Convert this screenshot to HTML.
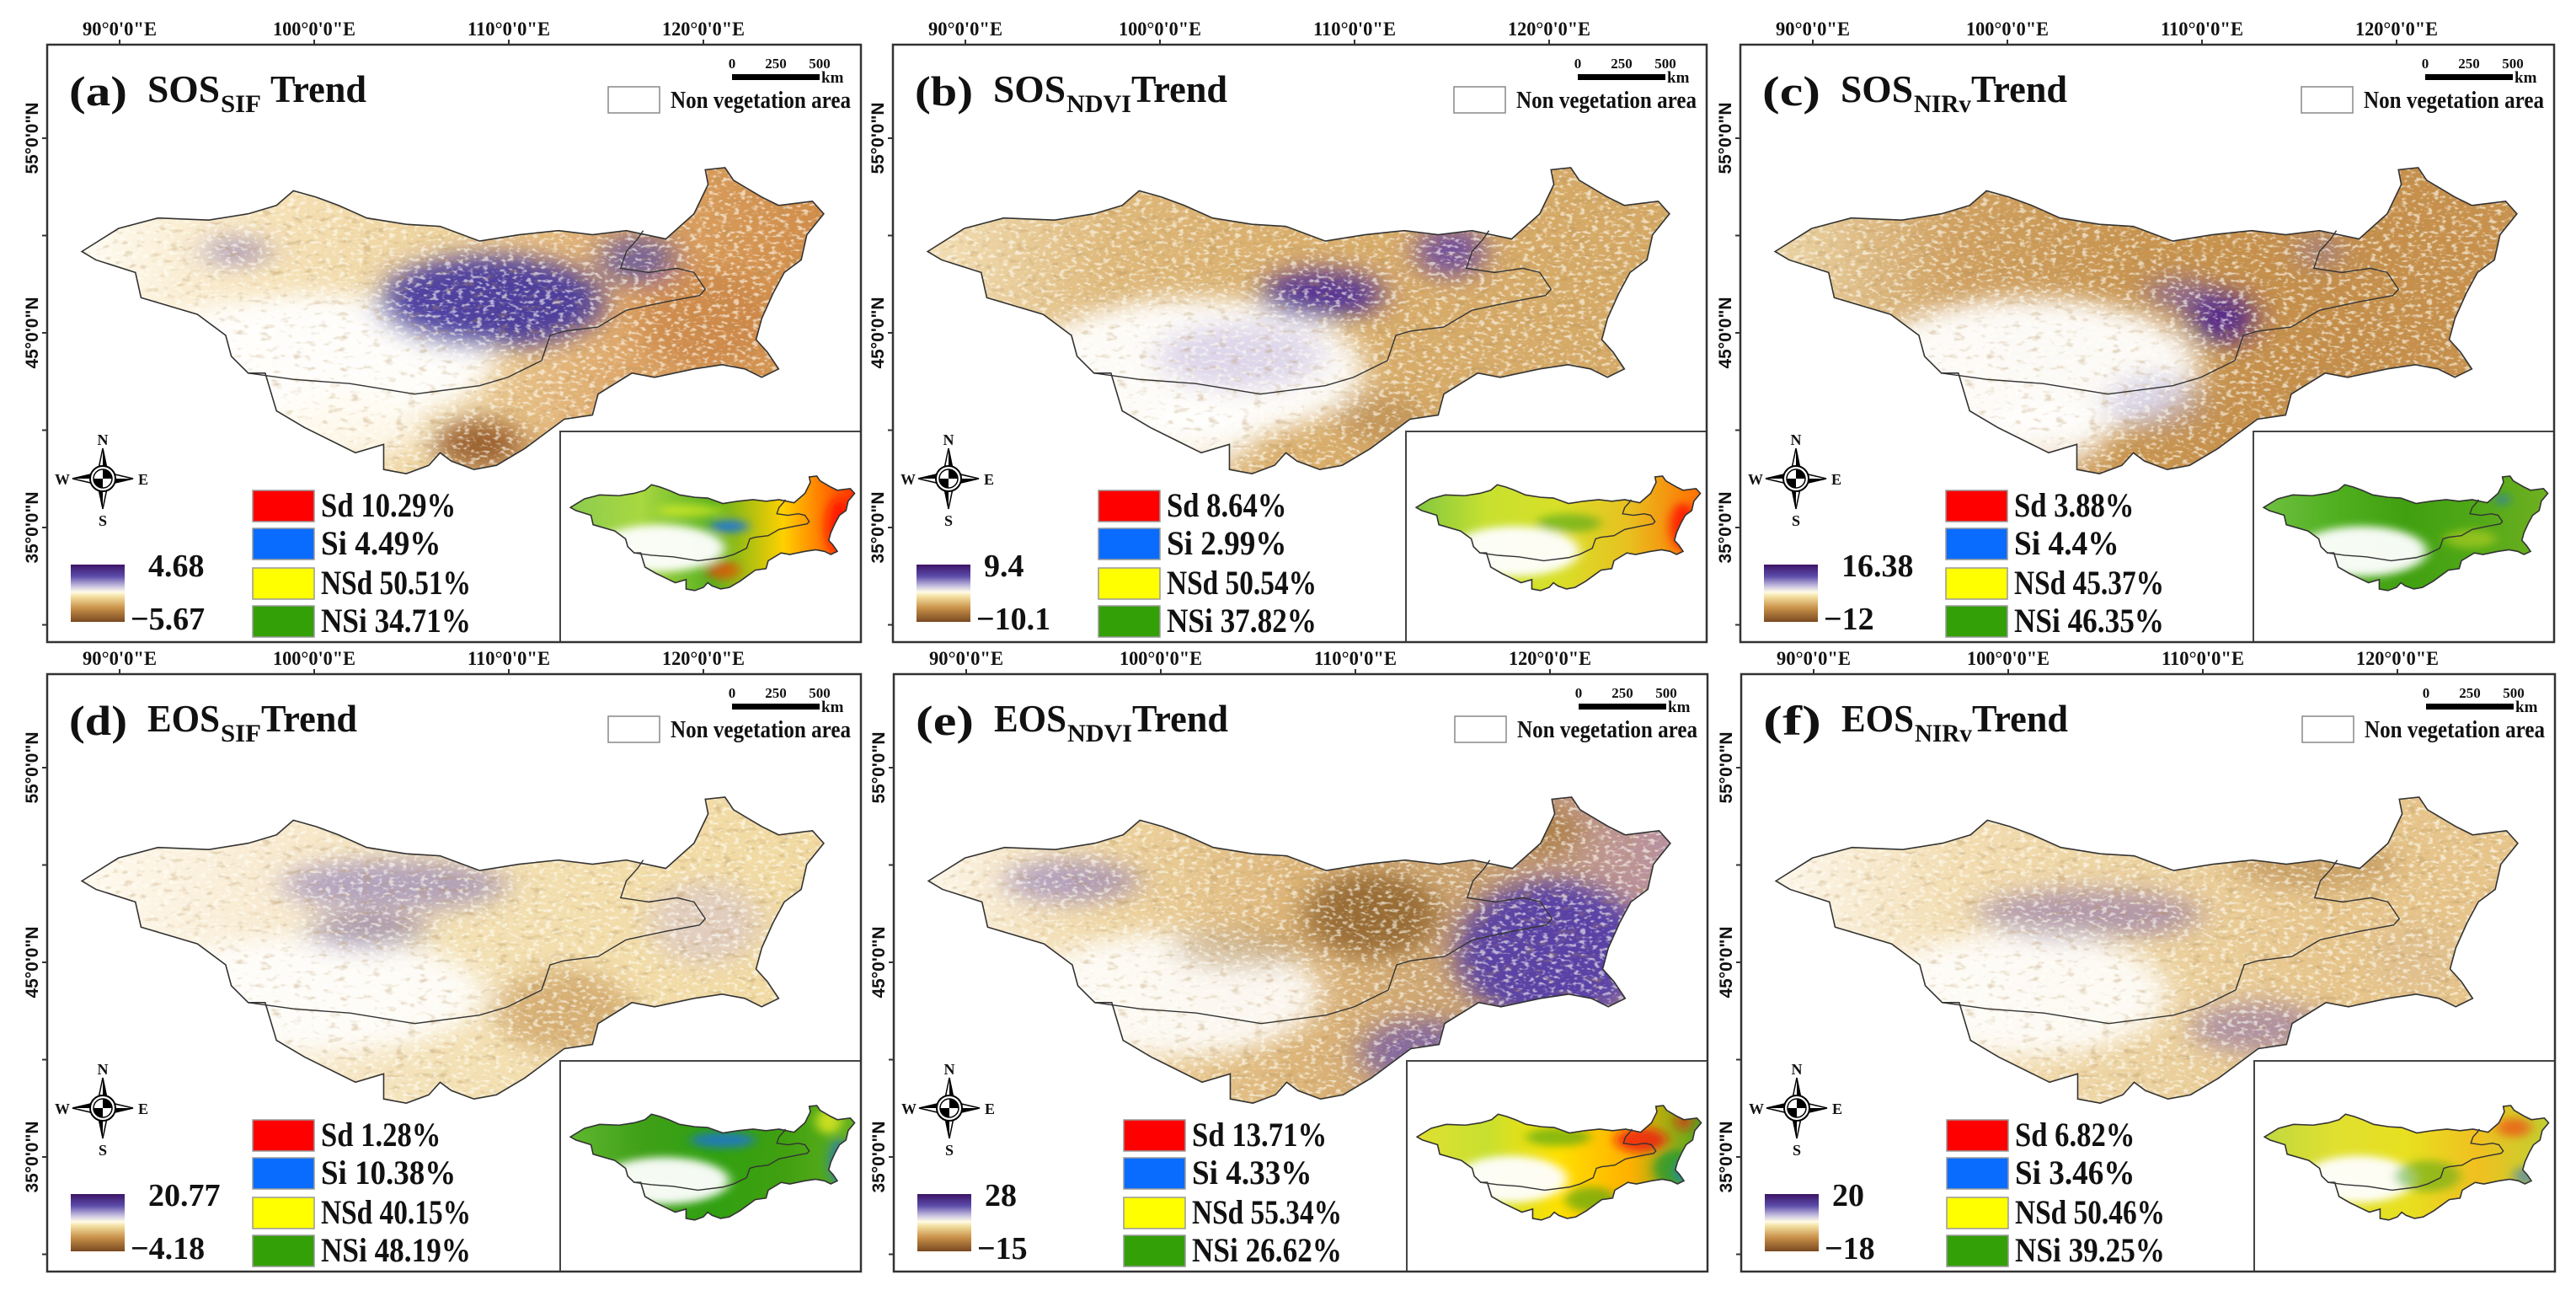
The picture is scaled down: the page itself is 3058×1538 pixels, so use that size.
<!DOCTYPE html>
<html><head><meta charset="utf-8">
<style>
html,body{margin:0;padding:0;background:#fff;}
svg{display:block;}
text{font-family:"Liberation Serif",serif;font-weight:bold;fill:#111;}
.sans{font-family:"Liberation Sans","DejaVu Sans",sans-serif;}
</style></head>
<body>
<svg id="fig" width="3058" height="1538" viewBox="0 0 3058 1538" xmlns="http://www.w3.org/2000/svg">
<defs id="defs">
<clipPath id="mapclip"><polygon id="clipPoly"/></clipPath>
<filter id="blur" x="-50%" y="-50%" width="200%" height="200%"><feGaussianBlur stdDeviation="26"/></filter>
<filter id="speckW" x="0" y="0" width="100%" height="100%">
<feTurbulence type="fractalNoise" baseFrequency="0.09 0.12" numOctaves="2" seed="3"/>
<feColorMatrix type="matrix" values="0 0 0 0 1  0 0 0 0 1  0 0 0 0 0.93  5 0 0 0 -2.6"/>
</filter>
<filter id="speckD" x="0" y="0" width="100%" height="100%">
<feTurbulence type="fractalNoise" baseFrequency="0.05 0.07" numOctaves="2" seed="11"/>
<feColorMatrix type="matrix" values="0 0 0 0 0.45  0 0 0 0 0.28  0 0 0 0 0.1  4 0 0 0 -2.3"/>
</filter>
<linearGradient id="cbgrad" x1="0" y1="0" x2="0" y2="1">
<stop offset="0" stop-color="#3d1466"/><stop offset="0.2" stop-color="#5a4aa8"/><stop offset="0.38" stop-color="#c9c2e0"/><stop offset="0.48" stop-color="#fffbe6"/><stop offset="0.56" stop-color="#f3dfa0"/><stop offset="0.76" stop-color="#c89048"/><stop offset="1" stop-color="#7a4a22"/>
</linearGradient>
</defs>
</svg>
<script>
// ---- data ----
const panelIds=['a','b','c','d','e','f'];
const titleMain=['SOS','SOS','SOS','EOS','EOS','EOS'];
const titleSub=['SIF','NDVI','NIRv','SIF','NDVI','NIRv'];
const cbMax=['4.68','9.4','16.38','20.77','28','20'];
const cbMin=['\u22125.67','\u221210.1','\u221212','\u22124.18','\u221215','\u221218'];
const classNames=['Sd','Si','NSd','NSi'];
const classColors=['#ff0000','#0a6cff','#ffff00','#33a008'];
const pctSd=['10.29','8.64','3.88','1.28','13.71','6.82'];
const pctSi=['4.49','2.99','4.4','10.38','4.33','3.46'];
const pctNSd=['50.51','50.54','45.37','40.15','55.34','50.46'];
const pctNSi=['34.71','37.82','46.35','48.19','26.62','39.25'];
const lonTicks=[90,100,110,120];
const latTicks=[55,45,35];
const latMinor=[50,40,30];

// ---- layout ----
const PX=[56,1060,2066,56,1061,2067], PY=[53,53,53,800,800,800];
const W=966,H=709;
const legendX=[244,244,244,244,273,244];
function lonX(l){return 86+(l-90)*23.1;}
function latY(l){return 111+(55-l)*23.1;}

const outline=[[145,600],[210,545],[280,520],[370,525],[440,510],[490,490],[520,455],[560,470],[600,490],[650,520],[720,535],[780,540],[850,575],[920,560],[990,550],[1050,560],[1110,550],[1180,570],[1230,510],[1255,440],[1250,405],[1285,400],[1300,430],[1350,470],[1380,490],[1440,480],[1460,510],[1430,560],[1420,620],[1390,650],[1370,700],[1350,760],[1340,810],[1360,840],[1380,880],[1350,900],[1320,880],[1280,870],[1230,880],[1160,900],[1120,890],[1060,940],[1050,990],[1000,1000],[960,1040],[930,1070],[880,1110],[840,1120],[800,1100],[780,1080],[760,1110],[720,1130],[680,1120],[680,1060],[630,1080],[600,1060],[540,1020],[490,980],[470,890],[440,890],[410,850],[400,800],[350,750],[250,710],[240,650],[170,620]];
const border=[[440,890],[520,905],[620,915],[735,940],[850,920],[900,900],[960,860],[975,800],[1000,790],[1060,780],[1110,740],[1180,720],[1240,705],[1250,690],[1230,650],[1200,640],[1150,650],[1100,640],[1110,600],[1130,570],[1140,550]];

const mapStops=[
 ['#fffcf4','#f6e2b8','#ecd09a','#dca466','#d08c48'],
 ['#f3e0b8','#deb87a','#d9ae6c','#d6aa68','#d4a864'],
 ['#ecd6a8','#cfa060','#c8944f','#c48e4a','#c8924e'],
 ['#fffaf0','#f8ead0','#f3e0b4','#f2dca8','#f0d8a0'],
 ['#fdf6ea','#eed4a0','#dcb478','#c8a070','#b890a0'],
 ['#fdf7ec','#f2dcb0','#ecd2a0','#e6c48a','#e6c48a']];
const mapBlobs=[
 [[560,860,320,160,'#ffffff',.95],[620,1020,130,80,'#fffaf0',.85],[870,720,200,110,'#3f32a0',.9],[1130,620,70,60,'#5048a8',.7],[420,600,60,30,'#6050b0',.5],[850,1060,80,60,'#8f5222',.85],[1250,760,120,120,'#c88040',.6]],
 [[620,880,300,170,'#ffffff',.95],[620,1040,110,80,'#ffffff',.8],[843,703,110,60,'#4a2a98',.9],[1072,600,60,60,'#5a3aa8',.8],[700,850,150,80,'#b0a0d8',.4],[950,1000,80,60,'#a07040',.35]],
 [[600,880,300,170,'#ffffff',.95],[620,1040,110,80,'#ffffff',.8],[935,758,60,65,'#4a2090',.9],[860,700,60,40,'#6a50b8',.55],[1110,600,40,40,'#8070c0',.45],[820,960,90,70,'#a8a0d0',.4]],
 [[560,870,300,140,'#ffffff',.88],[700,610,200,60,'#7060b8',.5],[650,720,110,40,'#50308a',.5],[1000,910,120,100,'#c89858',.65],[1250,700,100,100,'#c8b8e0',.4]],
 [[580,870,260,150,'#ffffff',.88],[1250,770,170,170,'#5038a8',.9],[1020,1010,110,80,'#6048b0',.65],[400,600,120,50,'#7060c0',.5],[930,680,120,100,'#8e6028',.85],[1230,480,70,60,'#a87838',.75],[700,760,120,50,'#b08a50',.5]],
 [[580,870,260,150,'#ffffff',.88],[700,680,200,60,'#6a50b0',.45],[1000,950,120,60,'#6a50b0',.45],[1100,560,150,60,'#b88a50',.6],[1280,780,80,80,'#d8b890',.4]]];
const insetStops=[
 ['#8ccc50','#a8d840','#58b020','#ffd000','#ff3000'],
 ['#80c840','#c8e030','#d8e028','#e8c020','#ff7000'],
 ['#70c040','#50b020','#40a010','#50a818','#70b020'],
 ['#60b830','#40a018','#30a010','#40a010','#60b020'],
 ['#e0e030','#c8e030','#ffe000','#ffb000','#50a820'],
 ['#c0d840','#e0e030','#e8e020','#f0c020','#c0d030']];
const insetBlobs=[
 [[560,860,300,150,'#ffffff',.95],[880,720,90,40,'#1a70e8',.85],[1390,720,60,180,'#ff1000',.85],[700,620,150,40,'#ffff20',.5],[850,1000,80,60,'#ff3000',.6]],
 [[600,880,300,160,'#ffffff',.95],[1380,720,60,150,'#ff0000',.75],[850,700,150,60,'#40a010',.55]],
 [[600,880,300,160,'#ffffff',.95],[1250,550,30,30,'#1a70e8',.7],[1100,800,120,60,'#e0e020',.45]],
 [[580,880,300,150,'#ffffff',.95],[850,620,150,50,'#1a70e8',.75],[1390,760,50,150,'#1a70e8',.65],[1340,500,60,80,'#f0f020',.75]],
 [[580,870,260,150,'#ffffff',.95],[800,600,150,60,'#40a010',.6],[1180,620,120,80,'#f01010',.75],[1380,500,40,60,'#f01010',.6],[1340,800,100,120,'#2a9a30',.85],[1390,820,40,60,'#1a70e8',.75],[950,1000,120,80,'#40a010',.6]],
 [[580,870,260,150,'#ffffff',.95],[1300,540,80,60,'#f04010',.65],[900,850,150,100,'#40a010',.5],[1350,850,50,60,'#1a70e8',.55]]];

const NS='http://www.w3.org/2000/svg';
const svg=document.getElementById('fig');
const defs=document.getElementById('defs');
function mk(tag,attrs,parent,txt){const e=document.createElementNS(NS,tag);for(const k in attrs)e.setAttribute(k,attrs[k]);if(txt!==undefined)e.textContent=txt;(parent||svg).appendChild(e);return e;}
const ptsStr=outline.map(p=>p.join(',')).join(' ');
document.getElementById('clipPoly').setAttribute('points',ptsStr);

function addGrad(id,stops){const g=mk('linearGradient',{id:id,gradientUnits:'userSpaceOnUse',x1:140,y1:0,x2:1460,y2:0},defs);
 stops.forEach((c,i)=>mk('stop',{offset:i/(stops.length-1),'stop-color':c},g));}

function drawMap(parent,gradId,blobs,name,speck){
 const clip=mk('g',{'clip-path':'url(#mapclip)'},parent);
 
 
 mk('rect',{x:100,y:350,width:1400,height:850,fill:'url(#'+gradId+')'},clip);
 const bg=mk('g',{filter:'url(#blur)'},clip);
 blobs.forEach(b=>{mk('ellipse',{cx:b[0],cy:b[1],rx:b[2],ry:b[3],fill:b[4],'fill-opacity':b[5]},bg);});
 if(speck){
  mk('rect',{x:100,y:350,width:1400,height:850,filter:'url(#speckD)',opacity:0.35},clip);
  mk('rect',{x:100,y:350,width:1400,height:850,filter:'url(#speckW)',opacity:0.6},clip);
 }
 const ol=mk('polygon',{points:ptsStr,fill:'none',stroke:'#333','stroke-width':1.6,'vector-effect':'non-scaling-stroke'},parent);
 
 
 const bd=mk('polyline',{points:border.map(p=>p.join(',')).join(' '),fill:'none',stroke:'#333','stroke-width':1.4,'vector-effect':'non-scaling-stroke'},parent);
 
 
}

panelIds.forEach((id,i)=>{
 const ox=PX[i],oy=PY[i];
 const g=mk('g',{transform:'translate('+ox+','+oy+')'});
 
 
 addGrad('mg'+id,mapStops[i]);
 addGrad('ig'+id,insetStops[i]);
 const mg=mk('g',{transform:'translate(-56,-53) scale(0.6698,0.4975)'},g);
 
 
 drawMap(mg,'mg'+id,mapBlobs[i],'trend-map-'+id,true);
 const ins=mk('rect',{x:609,y:459,width:W-609,height:H-459,fill:'#fff',stroke:'#444','stroke-width':2},g);
 
 
 const ig=mk('g',{transform:'translate(620,512) scale(0.383,0.374) translate(-38,-146) translate(-56,-53) scale(0.6698,0.4975)'},g);
 
 
 drawMap(ig,'ig'+id,insetBlobs[i],'significance-map-'+id,false);
 const fr=mk('rect',{x:0,y:0,width:W,height:H,fill:'none',stroke:'#333','stroke-width':2.5},g);
 
 
 lonTicks.forEach(l=>{
  const x=lonX(l);
  const tk=mk('line',{x1:x,y1:-6,x2:x,y2:0,stroke:'#333','stroke-width':2},g);
  
  
  const t=mk('text',{x:x,y:-11,'text-anchor':'middle','font-size':23,textLength:l<100?88:98,lengthAdjust:'spacingAndGlyphs'},g,l+'\u00b00\'0"E');
  
  
 });
 latTicks.concat(latMinor).forEach(l=>{
  const y=latY(l);
  const tk=mk('line',{x1:-6,y1:y,x2:0,y2:y,stroke:'#333','stroke-width':2},g);
  
  
 });
 latTicks.forEach(l=>{
  const y=latY(l);
  const t=mk('text',{transform:'translate(-11,'+y+') rotate(-90)','text-anchor':'middle','font-size':21,'class':'sans',textLength:85,lengthAdjust:'spacingAndGlyphs'},g,l+'\u00b00\'0"N');
  
  
 });
 const sw={SIF:48,NDVI:77,NIRv:68}[titleSub[i]];
 const t1=mk('text',{x:26,y:72,'font-size':50,textLength:69,lengthAdjust:'spacingAndGlyphs'},g,'('+id+')');
 
 
 const t2=mk('text',{x:119,y:68,'font-size':46,textLength:86,lengthAdjust:'spacingAndGlyphs'},g,titleMain[i]);
 
 
 const t3=mk('text',{x:206,y:80,'font-size':30,textLength:sw,lengthAdjust:'spacingAndGlyphs'},g,titleSub[i]);
 
 
 const tx=206+sw+(i===0?11:0);
 const t4=mk('text',{x:tx,y:68,'font-size':46,textLength:114,lengthAdjust:'spacingAndGlyphs'},g,'Trend');
 
 
 const sb=mk('rect',{x:813,y:35,width:104,height:7,fill:'#000'},g);
 
 
 [['0',813],['250',865],['500',917]].forEach(s=>{
  const t=mk('text',{x:s[1],y:28,'text-anchor':'middle','font-size':17},g,s[0]);
  
  
 });
 const km=mk('text',{x:919,y:45,'font-size':19},g,'km');
 
 
 const nb=mk('rect',{x:666,y:50,width:61,height:31,fill:'#fff',stroke:'#888','stroke-width':1.5},g);
 
 
 const nt=mk('text',{x:740,y:75,'font-size':28,textLength:214,lengthAdjust:'spacingAndGlyphs'},g,'Non vegetation area');
 
 
 const cg=mk('g',{transform:'translate(66,515)'},g);
 
 
 mk('polygon',{points:'0,-36 6,-7 36,0 6,7 0,36 -6,7 -36,0 -6,-7',fill:'#fff',stroke:'#000','stroke-width':1.5},cg);
 mk('polygon',{points:'0,-36 6,-7 0,-7',fill:'#000'},cg);
 mk('polygon',{points:'0,36 -6,7 0,7',fill:'#000'},cg);
 mk('polygon',{points:'-36,0 -7,-6 -7,0',fill:'#000'},cg);
 mk('polygon',{points:'36,0 7,6 7,0',fill:'#000'},cg);
 mk('circle',{r:15,fill:'#fff',stroke:'#000','stroke-width':2},cg);
 mk('path',{d:'M0,0 L0,-11 A11,11 0 0 1 11,0 Z M0,0 L0,11 A11,11 0 0 1 -11,0 Z',fill:'#000'},cg);
 mk('circle',{r:11,fill:'none',stroke:'#000','stroke-width':1.5},cg);
 [['N',0,-40],['S',0,56],['W',-48,7],['E',48,7]].forEach(c=>{
  const t=mk('text',{x:c[1],y:c[2],'text-anchor':'middle','font-size':18,'font-weight':'normal'},cg,c[0]);
  
  
 });
 const cb=mk('rect',{x:28,y:617,width:64,height:68,fill:'url(#cbgrad)'},g);
 
 
 const cmax=mk('text',{x:cbMax[i].length>3?120:108,y:631,'font-size':38},g,cbMax[i]);
 
 
 const cmin=mk('text',{x:99,y:694,'font-size':38},g,cbMin[i]);
 
 
 const pcts=[pctSd[i],pctSi[i],pctNSd[i],pctNSi[i]];
 const rowsY=[529,574,621,666];
 classNames.forEach((c,k)=>{
  const lx=legendX[i];
  const sq=mk('rect',{x:lx,y:rowsY[k],width:73,height:37,fill:classColors[k],stroke:'#999','stroke-width':1.5},g);
  
  
  const label=c+' '+pcts[k]+'%';
  const lt=mk('text',{x:lx+81,y:rowsY[k]+31,'font-size':40,textLength:label.length*17.8,lengthAdjust:'spacingAndGlyphs'},g,label);
  
  
 });
});
</script>
</body></html>
